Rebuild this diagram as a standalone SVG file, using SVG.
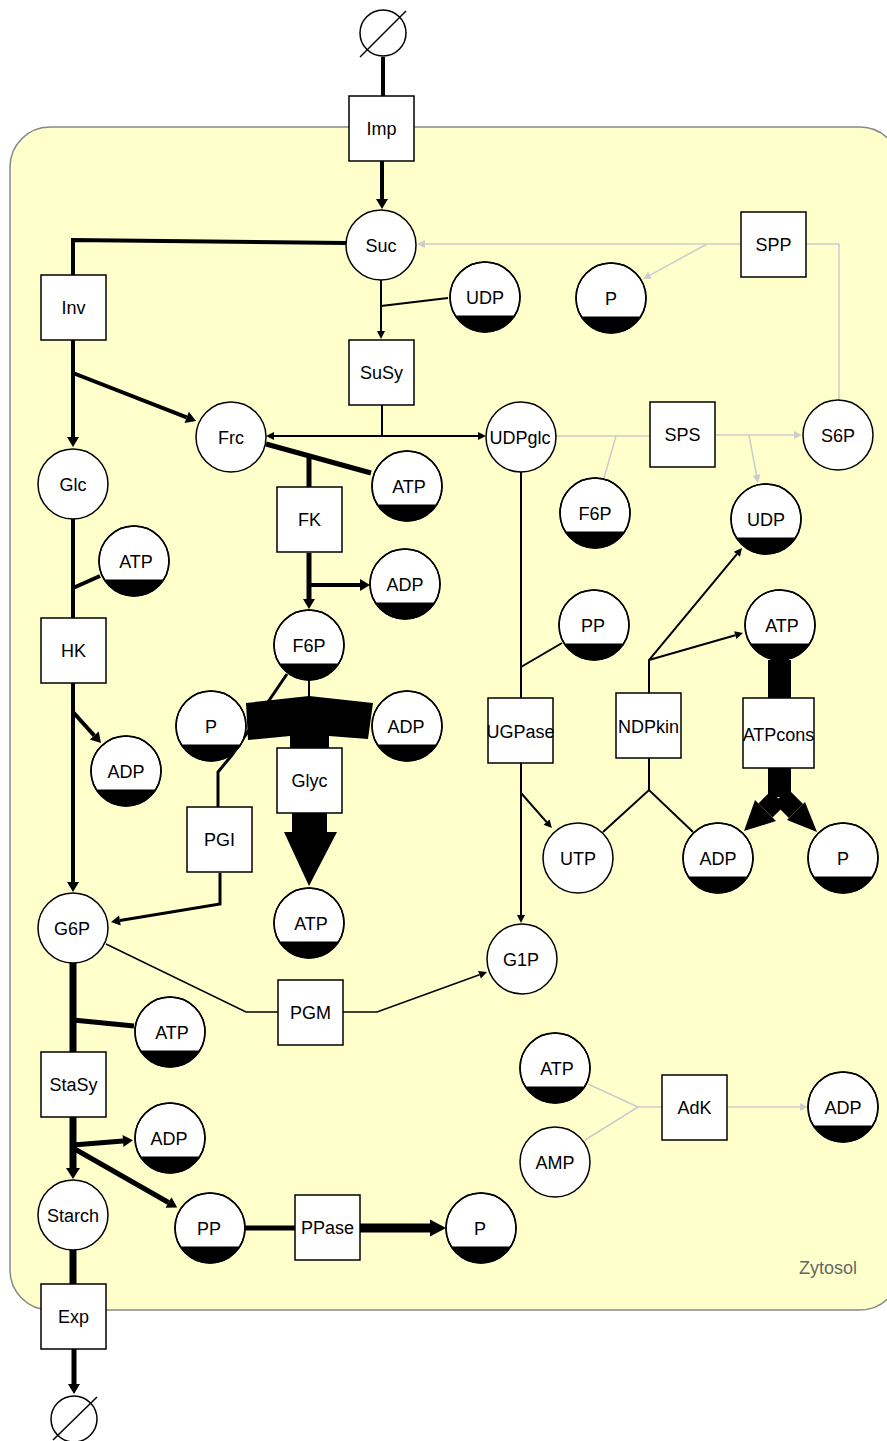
<svg xmlns="http://www.w3.org/2000/svg" xmlns:xlink="http://www.w3.org/1999/xlink" width="887" height="1441" viewBox="0 0 887 1441">
  <defs>
    <style>
      .lbl{font-family:"Liberation Sans",Arial,sans-serif;font-size:18px;fill:#000;text-anchor:middle}
      .comp-lbl{font-family:"Liberation Sans",Arial,sans-serif;font-size:18px;fill:#666}
      .box{fill:#fff;stroke:#000;stroke-width:1.5}
      .met{fill:#fff;stroke:#000;stroke-width:1.5}
      .e{fill:none;stroke:#000;stroke-linecap:butt;stroke-linejoin:miter}
      .g{fill:none;stroke:#ccc;stroke-width:1.5}
      .blk{fill:#000;stroke:none}
    </style>
    <!-- arrowheads: base sits on the path end, tip points forward -->
    <marker id="aS" markerUnits="userSpaceOnUse" markerWidth="10" markerHeight="10" orient="auto" refX="0" refY="0" overflow="visible"><path d="M0,-4 L8,0 L0,4Z" fill="#000"/></marker>
    <marker id="aS3" markerUnits="userSpaceOnUse" markerWidth="10" markerHeight="10" orient="auto" refX="0" refY="0" overflow="visible"><path d="M0,-5 L9,0 L0,5Z" fill="#000"/></marker>
    <marker id="aM" markerUnits="userSpaceOnUse" markerWidth="12" markerHeight="12" orient="auto" refX="0" refY="0" overflow="visible"><path d="M0,-6 L10,0 L0,6Z" fill="#000"/></marker>
    <marker id="aM7" markerUnits="userSpaceOnUse" markerWidth="12" markerHeight="14" orient="auto" refX="0" refY="0" overflow="visible"><path d="M0,-7 L11,0 L0,7Z" fill="#000"/></marker>
    <marker id="aL" markerUnits="userSpaceOnUse" markerWidth="16" markerHeight="18" orient="auto" refX="0" refY="0" overflow="visible"><path d="M0,-8.5 L16,0 L0,8.5Z" fill="#000"/></marker>
    <marker id="aG" markerUnits="userSpaceOnUse" markerWidth="10" markerHeight="10" orient="auto" refX="0" refY="0" overflow="visible"><path d="M0,-4 L8,0 L0,4Z" fill="#ccc"/></marker>
    <!-- metabolite pools -->
    <g id="pool"><circle r="35" class="met"/><path d="M-29.7,18.5 A35,35 0 0 0 29.7,18.5Z" fill="#000"/><circle r="35" fill="none" stroke="#000" stroke-width="1.5"/></g>
    <g id="metab"><circle r="35" class="met"/></g>
    <g id="enz"><rect x="0" y="0" width="65" height="65" class="box"/></g>
    <g id="empty"><circle r="23" fill="#fff" stroke="#000" stroke-width="1.5"/></g>
  </defs>

  <!-- compartment -->
  <g id="zytosol">
    <rect x="10" y="127" width="890" height="1183" rx="40" ry="40" fill="#ffffcc" stroke="#888" stroke-width="1.5"/>
    <text class="comp-lbl" x="799" y="1274">Zytosol</text>
  </g>

  <!-- reactions -->
  <g id="connectors">
    <path class="e" stroke-width="4" d="M383,57 V96"/>
    <path class="e" stroke-width="4" d="M382,161 V199" marker-end="url(#aM)"/>
    <path class="e" stroke-width="4" d="M346,243 L73,240 V275"/>
    <path class="e" stroke-width="4" d="M73,340 V437" marker-end="url(#aM)"/>
    <path class="e" stroke-width="4" d="M73,373 L186.7,417.4" marker-end="url(#aM)"/>

    <path class="e" stroke-width="2" d="M381,280 V331" marker-end="url(#aS)"/>
    <path class="e" stroke-width="2" d="M448,298 L381,306"/>
    <path class="e" stroke-width="2" d="M382,405 V436"/>
    <path class="e" stroke-width="2" d="M382,436 H274" marker-end="url(#aS)"/>
    <path class="e" stroke-width="2" d="M382,436 H478" marker-end="url(#aS)"/>

    <path class="g" d="M741,244 H425" marker-end="url(#aG)"/>
    <path class="g" d="M707,244 L650,275.2" marker-end="url(#aG)"/>
    <path class="g" d="M807,244 H839 V400"/>
    <path class="g" d="M556,436 H650"/>
    <path class="g" d="M604,478 L616,436"/>
    <path class="g" d="M716,435 H794" marker-end="url(#aG)"/>
    <path class="g" d="M749,435 L756.5,475.1" marker-end="url(#aG)"/>
    <path class="g" d="M588,1084 L638,1107 M585,1140 L638,1107"/>
    <path class="g" stroke-width="2" d="M638,1107 H662"/>
    <path class="g" d="M728,1107 H800" marker-end="url(#aG)"/>

    <path class="e" stroke-width="5" d="M266,444 L371,473"/>
    <path class="e" stroke-width="5" d="M309,455 V487"/>
    <path class="e" stroke-width="5" d="M309,553 V599" marker-end="url(#aM)"/>
    <path class="e" stroke-width="4" d="M309,585 H360" marker-end="url(#aM)"/>

    <path class="e" stroke-width="4" d="M73,519 V618"/>
    <path class="e" stroke-width="4" d="M100,576 L73,588"/>
    <path class="e" stroke-width="4" d="M73,683 V882" marker-end="url(#aM)"/>
    <path class="e" stroke-width="4" d="M73,712 L94.3,735.6" marker-end="url(#aM)"/>

    <path class="e" stroke-width="2" d="M309,680 V698"/>
    <path class="e" stroke-width="3" d="M287,674 L232,755 L218,772 V807"/>
    <polygon class="blk" points="246,703 309,696 373,703 368,739 329,736 329,748 290,748 290,736 248,740"/>
    <polygon class="blk" points="292,813 327,813 327,832 337,832 309,886 284,832 292,832"/>
    <path class="e" stroke-width="3" d="M220,873 V904 L119.9,920.5" marker-end="url(#aS3)"/>

    <path class="e" stroke-width="2" d="M521,472 V915" marker-end="url(#aS)"/>
    <path class="e" stroke-width="2" d="M562,643 L521,667"/>
    <path class="e" stroke-width="2" d="M521,793 L546.6,822.1" marker-end="url(#aS)"/>

    <path class="e" stroke-width="2" d="M649,693 V660 L736.9,554.2" marker-end="url(#aS)"/>
    <path class="e" stroke-width="2" d="M649,660 L735.3,635.2" marker-end="url(#aS)"/>
    <path class="e" stroke-width="2" d="M649,758 V790 M603,832 L649,790 L693,832"/>

    <rect class="blk" x="768" y="660" width="23" height="38"/>
    <path class="e" stroke-width="23" d="M779.5,768 V797"/>
    <path class="e" stroke-width="20" d="M778,798 L765.5,810.5"/>
    <path class="e" stroke-width="20" d="M781,796 L796,811"/>
    <polygon class="blk" points="744,831 755,800 776,821"/>
    <polygon class="blk" points="817,832 805,802 787,820"/>

    <path class="e" stroke-width="1.5" d="M106,944 L246,1012 H278"/>
    <path class="e" stroke-width="1.5" d="M343,1012 H377 L479.5,974.7" marker-end="url(#aS)"/>

    <path class="e" stroke-width="7" d="M73,963 V1052"/>
    <path class="e" stroke-width="5" d="M134,1026 L73,1020"/>
    <path class="e" stroke-width="7" d="M73,1117 V1168" marker-end="url(#aM7)"/>
    <path class="e" stroke-width="5" d="M73,1145 L123,1141" marker-end="url(#aM)"/>
    <path class="e" stroke-width="5" d="M73,1148 L168.5,1202.5" marker-end="url(#aM)"/>
    <path class="e" stroke-width="5" d="M245,1228 H295"/>
    <path class="e" stroke-width="9" d="M360,1228 H430" marker-end="url(#aL)"/>
    <path class="e" stroke-width="7" d="M73,1250 V1284"/>
    <path class="e" stroke-width="5" d="M74,1349 V1384" marker-end="url(#aM)"/>
  </g>

  <!-- sources / sinks -->
  <g id="src-top"><use xlink:href="#empty" x="383" y="33"/><path d="M360,57 L406,11" stroke="#000" stroke-width="1.5"/></g>
  <g id="sink-bottom"><use xlink:href="#empty" x="74" y="1419"/><path d="M53,1440 L97,1397" stroke="#000" stroke-width="1.5"/></g>

  <!-- enzymes -->
  <g id="Imp"><use xlink:href="#enz" x="349" y="96"/><text class="lbl" x="381.5" y="135">Imp</text></g>
  <g id="Inv"><use xlink:href="#enz" x="41" y="275"/><text class="lbl" x="73.5" y="314">Inv</text></g>
  <g id="SPP"><use xlink:href="#enz" x="741" y="212"/><text class="lbl" x="773.5" y="251">SPP</text></g>
  <g id="SuSy"><use xlink:href="#enz" x="349" y="340"/><text class="lbl" x="381.5" y="379">SuSy</text></g>
  <g id="SPS"><use xlink:href="#enz" x="650" y="402"/><text class="lbl" x="682.5" y="441">SPS</text></g>
  <g id="FK"><use xlink:href="#enz" x="277" y="487"/><text class="lbl" x="309.5" y="526">FK</text></g>
  <g id="HK"><use xlink:href="#enz" x="41" y="618"/><text class="lbl" x="73.5" y="657">HK</text></g>
  <g id="UGPase"><use xlink:href="#enz" x="488" y="698"/><text class="lbl" x="520.5" y="738">UGPase</text></g>
  <g id="NDPkin"><use xlink:href="#enz" x="616" y="693"/><text class="lbl" x="648.5" y="733">NDPkin</text></g>
  <g id="ATPcons"><rect x="743" y="698" width="71" height="70" class="box"/><text class="lbl" x="778.5" y="741">ATPcons</text></g>
  <g id="Glyc"><use xlink:href="#enz" x="277" y="748"/><text class="lbl" x="309.5" y="787">Glyc</text></g>
  <g id="PGI"><use xlink:href="#enz" x="187" y="807"/><text class="lbl" x="219.5" y="846">PGI</text></g>
  <g id="PGM"><use xlink:href="#enz" x="278" y="980"/><text class="lbl" x="310.5" y="1019">PGM</text></g>
  <g id="AdK"><use xlink:href="#enz" x="662" y="1075"/><text class="lbl" x="694.5" y="1114">AdK</text></g>
  <g id="StaSy"><use xlink:href="#enz" x="41" y="1052"/><text class="lbl" x="73.5" y="1091">StaSy</text></g>
  <g id="PPase"><use xlink:href="#enz" x="295" y="1195"/><text class="lbl" x="327.5" y="1234">PPase</text></g>
  <g id="Exp"><use xlink:href="#enz" x="41" y="1284"/><text class="lbl" x="73.5" y="1323">Exp</text></g>

  <!-- metabolites -->
  <g id="Suc"><use xlink:href="#metab" x="381" y="245"/><text class="lbl" x="381" y="251.5">Suc</text></g>
  <g id="UDP-1"><use xlink:href="#pool" x="485" y="297"/><text class="lbl" x="485" y="304">UDP</text></g>
  <g id="P-1"><use xlink:href="#pool" x="611" y="298"/><text class="lbl" x="611" y="305">P</text></g>
  <g id="Frc"><use xlink:href="#metab" x="231" y="437"/><text class="lbl" x="231" y="443.5">Frc</text></g>
  <g id="UDPglc"><use xlink:href="#metab" x="521" y="437"/><text class="lbl" x="520" y="443.5">UDPglc</text></g>
  <g id="S6P"><use xlink:href="#metab" x="838" y="435"/><text class="lbl" x="838" y="441.5">S6P</text></g>
  <g id="Glc"><use xlink:href="#metab" x="73" y="484"/><text class="lbl" x="73" y="490.5">Glc</text></g>
  <g id="ATP-1"><use xlink:href="#pool" x="407" y="486"/><text class="lbl" x="409" y="493">ATP</text></g>
  <g id="F6P-2"><use xlink:href="#pool" x="595" y="513"/><text class="lbl" x="595" y="520">F6P</text></g>
  <g id="UDP-2"><use xlink:href="#pool" x="766" y="519"/><text class="lbl" x="766" y="526">UDP</text></g>
  <g id="ATP-2"><use xlink:href="#pool" x="134" y="561"/><text class="lbl" x="136" y="568">ATP</text></g>
  <g id="ADP-1"><use xlink:href="#pool" x="405" y="584"/><text class="lbl" x="405" y="591">ADP</text></g>
  <g id="PP-1"><use xlink:href="#pool" x="594" y="625"/><text class="lbl" x="593" y="632">PP</text></g>
  <g id="ATP-3"><use xlink:href="#pool" x="780" y="625"/><text class="lbl" x="782" y="632">ATP</text></g>
  <g id="F6P-1"><use xlink:href="#pool" x="309" y="645"/><text class="lbl" x="309" y="652">F6P</text></g>
  <g id="P-2"><use xlink:href="#pool" x="211" y="726"/><text class="lbl" x="211" y="733">P</text></g>
  <g id="ADP-2"><use xlink:href="#pool" x="407" y="726"/><text class="lbl" x="406" y="733">ADP</text></g>
  <g id="ADP-3"><use xlink:href="#pool" x="126" y="771"/><text class="lbl" x="126" y="778">ADP</text></g>
  <g id="UTP"><use xlink:href="#metab" x="578" y="858"/><text class="lbl" x="578" y="864.5">UTP</text></g>
  <g id="ADP-4"><use xlink:href="#pool" x="718" y="858"/><text class="lbl" x="718" y="865">ADP</text></g>
  <g id="P-3"><use xlink:href="#pool" x="843" y="858"/><text class="lbl" x="843" y="865">P</text></g>
  <g id="ATP-4"><use xlink:href="#pool" x="309" y="923"/><text class="lbl" x="311" y="930">ATP</text></g>
  <g id="G6P"><use xlink:href="#metab" x="73" y="928"/><text class="lbl" x="72" y="934.5">G6P</text></g>
  <g id="G1P"><use xlink:href="#metab" x="522" y="959"/><text class="lbl" x="521" y="965.5">G1P</text></g>
  <g id="ATP-5"><use xlink:href="#pool" x="170" y="1032"/><text class="lbl" x="172" y="1039">ATP</text></g>
  <g id="ATP-6"><use xlink:href="#pool" x="555" y="1068"/><text class="lbl" x="557" y="1075">ATP</text></g>
  <g id="ADP-5"><use xlink:href="#pool" x="843" y="1107"/><text class="lbl" x="843" y="1114">ADP</text></g>
  <g id="ADP-6"><use xlink:href="#pool" x="170" y="1138"/><text class="lbl" x="169" y="1145">ADP</text></g>
  <g id="AMP"><use xlink:href="#metab" x="555" y="1162"/><text class="lbl" x="555" y="1168.5">AMP</text></g>
  <g id="Starch"><use xlink:href="#metab" x="73" y="1215"/><text class="lbl" x="73" y="1221.5">Starch</text></g>
  <g id="PP-2"><use xlink:href="#pool" x="210" y="1228"/><text class="lbl" x="209" y="1235">PP</text></g>
  <g id="P-4"><use xlink:href="#pool" x="481" y="1228"/><text class="lbl" x="480" y="1235">P</text></g>
</svg>
